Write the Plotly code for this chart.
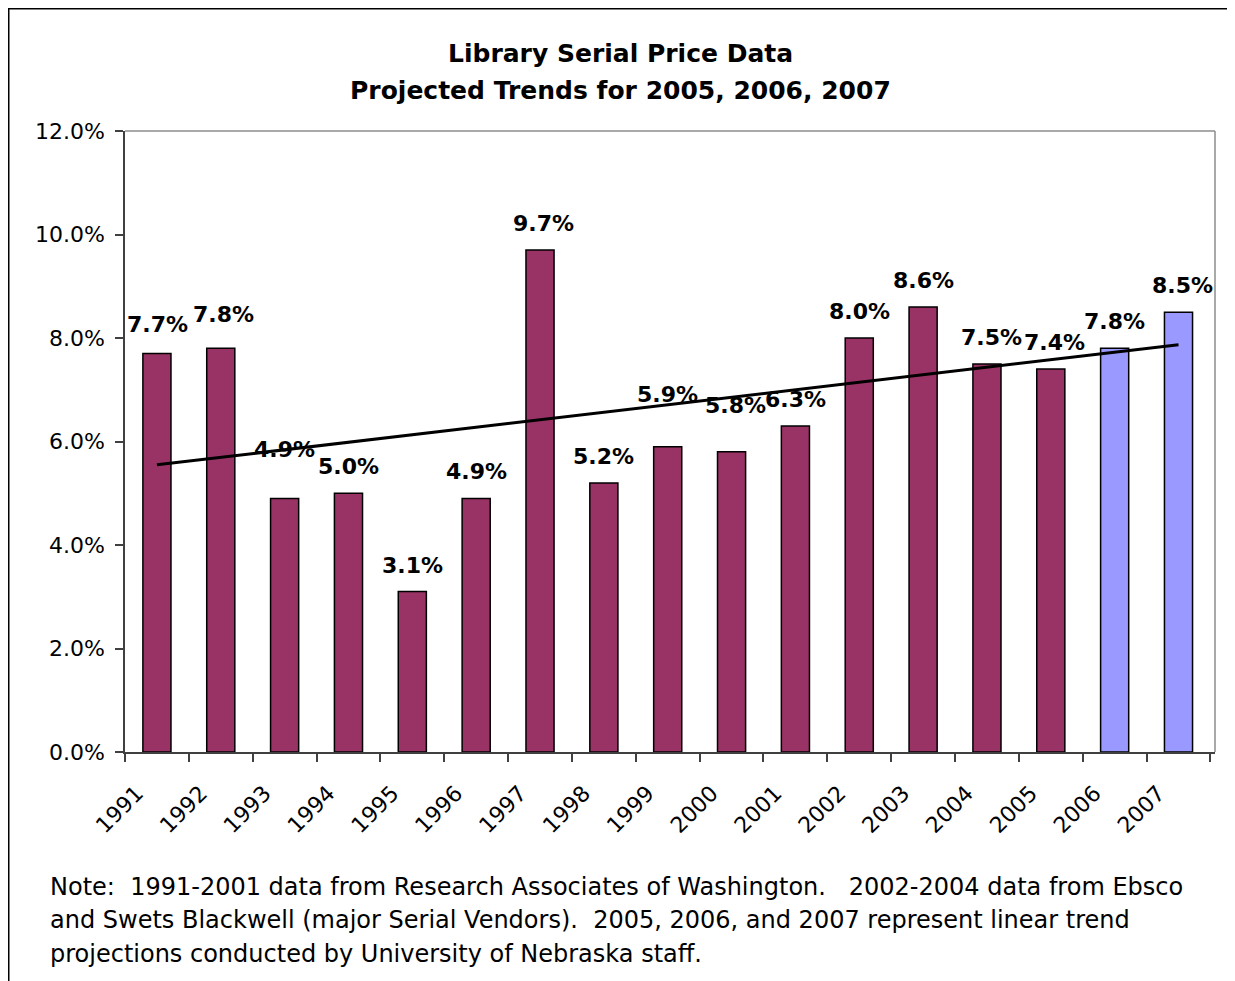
import plotly.graph_objects as go

years = ["1991", "1992", "1993", "1994", "1995", "1996", "1997", "1998", "1999",
         "2000", "2001", "2002", "2003", "2004", "2005", "2006", "2007"]
values = [7.7, 7.8, 4.9, 5.0, 3.1, 4.9, 9.7, 5.2, 5.9,
          5.8, 6.3, 8.0, 8.6, 7.5, 7.4, 7.8, 8.5]
projected = [False] * 15 + [True] * 2
trend_x = ["1991", "2007"]
trend_y = [5.55, 7.87]
y_ticks = [0, 2, 4, 6, 8, 10, 12]

# styling (label extra offsets in pixels)
label_shift = [15, 19, 34, 12, 12, 12, 12, 12, 38, 32, 12, 12, 12, 12, 12, 12, 12]
label_dx = [1, 3, 0, 0, 0, 0, 3, 0, 0, 4, 0, 0, 0, 5, 4, 0, 4]

FONT = "DejaVu Sans, sans-serif"
OFF = 8  # browser default body margin
W, H = 1235 - OFF, 981 - OFF
L, R, T, B = 125 - OFF, 1235 - 1215, 131 - OFF, 981 - 752
pw, ph = W - L - R, H - T - B


def px(x):
    return (x - OFF - L) / pw


def py(y):
    return (H - B - (y - OFF)) / ph


colors = ["#9999FF" if p else "#993366" for p in projected]

fig = go.Figure()
fig.add_trace(go.Bar(
    x=years, y=values, width=0.44,
    marker=dict(color=colors, line=dict(color="black", width=1.5)),
    showlegend=False, hoverinfo="x+y",
))
fig.add_trace(go.Scatter(
    x=trend_x, y=trend_y, mode="lines",
    line=dict(color="black", width=3), showlegend=False,
))

annotations = []
for i, v in enumerate(values):
    annotations.append(dict(
        x=i, y=v, xref="x", yref="y", text=f"{v:.1f}%", showarrow=False,
        yanchor="bottom", yshift=label_shift[i], xshift=label_dx[i],
        font=dict(family=FONT, size=22, color="black", weight="bold"),
    ))

titles = ["Library Serial Price Data", "Projected Trends for 2005, 2006, 2007"]
title_y = [53, 91]
for txt, ty in zip(titles, title_y):
    annotations.append(dict(
        x=px(620), y=py(ty), xref="paper", yref="paper",
        xanchor="center", yanchor="middle", text=txt, showarrow=False,
        font=dict(family=FONT, size=25, color="black", weight="bold"),
    ))

notes = [
    "Note:  1991-2001 data from Research Associates of Washington.   2002-2004 data from Ebsco",
    "and Swets Blackwell (major Serial Vendors).  2005, 2006, and 2007 represent linear trend",
    "projections conducted by University of Nebraska staff.",
]
note_y = [887, 920, 954]
for txt, ny in zip(notes, note_y):
    annotations.append(dict(
        x=px(48), y=py(ny), xref="paper", yref="paper",
        xanchor="left", yanchor="middle", text=txt, showarrow=False,
        font=dict(family=FONT, size=24, color="black"),
    ))

shapes = [
    # outer chart border
    dict(type="rect", xref="paper", yref="paper",
         x0=px(8.75), x1=px(1231.5), y0=py(1000), y1=py(8.75),
         line=dict(color="black", width=1.5), layer="below"),
    # plot area top and right border (gray)
    dict(type="line", xref="paper", yref="paper", x0=0, x1=1, y0=1, y1=1,
         line=dict(color="#8c8c8c", width=1.5)),
    dict(type="line", xref="paper", yref="paper", x0=1, x1=1, y0=0, y1=1,
         line=dict(color="#8c8c8c", width=1.5)),
]

fig.update_layout(
    width=W, height=H,
    margin=dict(l=L, r=R, t=T, b=B, autoexpand=False),
    paper_bgcolor="white", plot_bgcolor="white",
    annotations=annotations, shapes=shapes,
)
fig.update_xaxes(
    type="category", tickson="boundaries", ticks="outside", ticklen=8,
    tickcolor="#404040", tickwidth=1.5, tickangle=-45,
    ticklabelstandoff=18, ticklabelshift=-20,
    showline=True, linecolor="#404040", linewidth=1.5,
    tickfont=dict(family=FONT, size=22, color="black"),
    showgrid=False, zeroline=False,
)
fig.update_yaxes(
    range=[0, 12], tickvals=y_ticks, ticktext=[f"{t:.1f}%" for t in y_ticks],
    ticks="outside", ticklen=8, tickcolor="#404040", tickwidth=1.5,
    ticklabelstandoff=6,
    showline=True, linecolor="#404040", linewidth=1.5,
    tickfont=dict(family=FONT, size=22, color="black"),
    showgrid=False, zeroline=False,
)

fig.write_html("out.html")
